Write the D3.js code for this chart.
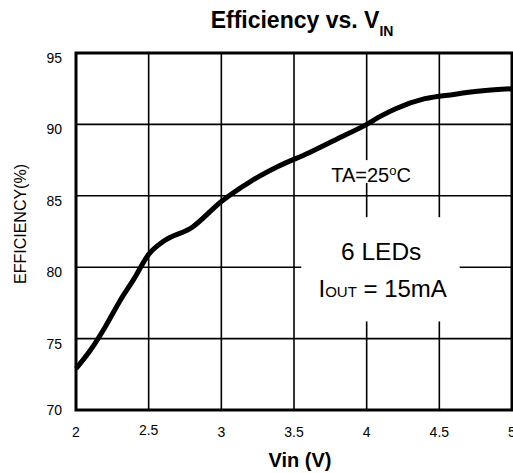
<!DOCTYPE html>
<html>
<head>
<script src="https://d3js.org/d3.v7.min.js"></script>
<style>
  body { margin: 0; background: #fff; }
  text { font-family: "Liberation Sans", Arial, sans-serif; fill: #000; }
</style>
</head>
<body>
<div id="chart"></div>
<script>
// data
var vin = [2.0, 2.1, 2.2, 2.3, 2.4, 2.5, 2.6, 2.8, 3.0, 3.2, 3.4, 3.6, 3.8, 4.0, 4.1, 4.2, 4.4, 4.6, 4.8, 5.0];
var efficiency = [72.9, 74.2, 75.8, 77.6, 79.2, 80.9, 81.8, 82.8, 84.6, 86.0, 87.1, 88.0, 89.0, 90.0, 90.6, 91.1, 91.8, 92.1, 92.35, 92.5];
var xTicks = [2, 2.5, 3, 3.5, 4, 4.5, 5];
var xTickLabels = ["2", "2.5", "3", "3.5", "4", "4.5", "5"];
var yTicks = [70, 75, 80, 85, 90, 95];

var width = 513, height = 473;
var margin = {left: 76, right: 1, top: 53, bottom: 63};
var w = width - margin.left - margin.right;
var h = height - margin.top - margin.bottom;

var svg = d3.select("#chart").append("svg")
  .attr("width", width)
  .attr("height", height);

var g = svg.append("g")
  .attr("transform", "translate(" + margin.left + "," + margin.top + ")");

var x = d3.scaleLinear().domain([2, 5]).range([0, w]);
var y = d3.scaleLinear().domain([70, 95]).range([h, 0]);

// grid
g.selectAll(".vgrid").data(xTicks.slice(1, -1)).enter().append("line")
  .attr("x1", d => x(d)).attr("x2", d => x(d))
  .attr("y1", 0).attr("y2", h)
  .attr("stroke", "#000").attr("stroke-width", 1.6);
g.selectAll(".hgrid").data(yTicks.slice(1, -1)).enter().append("line")
  .attr("x1", 0).attr("x2", w)
  .attr("y1", d => y(d)).attr("y2", d => y(d))
  .attr("stroke", "#000").attr("stroke-width", 1.6);

// white boxes behind the notes
g.append("rect")
  .attr("x", x(3.55)).attr("y", y(83.5))
  .attr("width", x(4.64) - x(3.55)).attr("height", y(76.2) - y(83.5))
  .attr("fill", "#fff");
g.append("rect")
  .attr("x", x(3.73)).attr("y", y(87.5))
  .attr("width", x(4.33) - x(3.73)).attr("height", y(85.9) - y(87.5))
  .attr("fill", "#fff");

// frame
g.append("rect")
  .attr("x", 0).attr("y", 0).attr("width", w).attr("height", h)
  .attr("fill", "none").attr("stroke", "#000").attr("stroke-width", 3);

// curve
var pts = vin.map((v, i) => [v, efficiency[i]]);
g.append("path")
  .datum(pts)
  .attr("fill", "none")
  .attr("stroke", "#000")
  .attr("stroke-width", 5)
  .attr("stroke-linejoin", "round")
  .attr("d", d3.line().x(d => x(d[0])).y(d => y(d[1])).curve(d3.curveMonotoneX));

// y tick labels
g.selectAll(".ylab").data(yTicks).enter().append("text")
  .attr("x", -14).attr("y", d => y(d) + (d == 70 ? 5 : 10))
  .attr("text-anchor", "end")
  .style("font-size", "14px")
  .text(d => d);

// x tick labels
g.selectAll(".xlab").data(xTicks).enter().append("text")
  .attr("x", d => x(d)).attr("y", (d, i) => h + (i == 1 ? 25 : 27))
  .attr("text-anchor", "middle")
  .style("font-size", "14px")
  .text((d, i) => xTickLabels[i]);

// axis titles
svg.append("text")
  .attr("x", 300).attr("y", 467)
  .attr("text-anchor", "middle")
  .style("font-size", "20px").style("font-weight", "bold")
  .text("Vin (V)");

svg.append("text")
  .attr("transform", "translate(26,224) rotate(-90)")
  .attr("text-anchor", "middle")
  .style("font-size", "16px")
  .text("EFFICIENCY(%)");

// title
var title = svg.append("text")
  .attr("x", 302).attr("y", 28)
  .attr("text-anchor", "middle")
  .style("font-size", "23px").style("font-weight", "bold");
title.append("tspan").text("Efficiency vs. V");
title.append("tspan").attr("dy", 8).style("font-size", "14px").text("IN");

// notes
var ta = g.append("text")
  .attr("x", x(4.03)).attr("y", y(85.97))
  .attr("text-anchor", "middle")
  .style("font-size", "20px");
ta.append("tspan").text("TA=25");
ta.append("tspan").attr("dy", -7).style("font-size", "13px").text("o");
ta.append("tspan").attr("dy", 7).text("C");

g.append("text")
  .attr("x", x(4.10)).attr("y", y(80.5))
  .attr("text-anchor", "middle")
  .style("font-size", "24.5px")
  .text("6 LEDs");

var iout = g.append("text")
  .attr("x", x(4.11)).attr("y", y(77.9))
  .attr("text-anchor", "middle")
  .style("font-size", "24px");
iout.append("tspan").text("I");
iout.append("tspan").style("font-size", "15px").text("OUT");
iout.append("tspan").text(" = 15mA");
</script>
</body>
</html>
